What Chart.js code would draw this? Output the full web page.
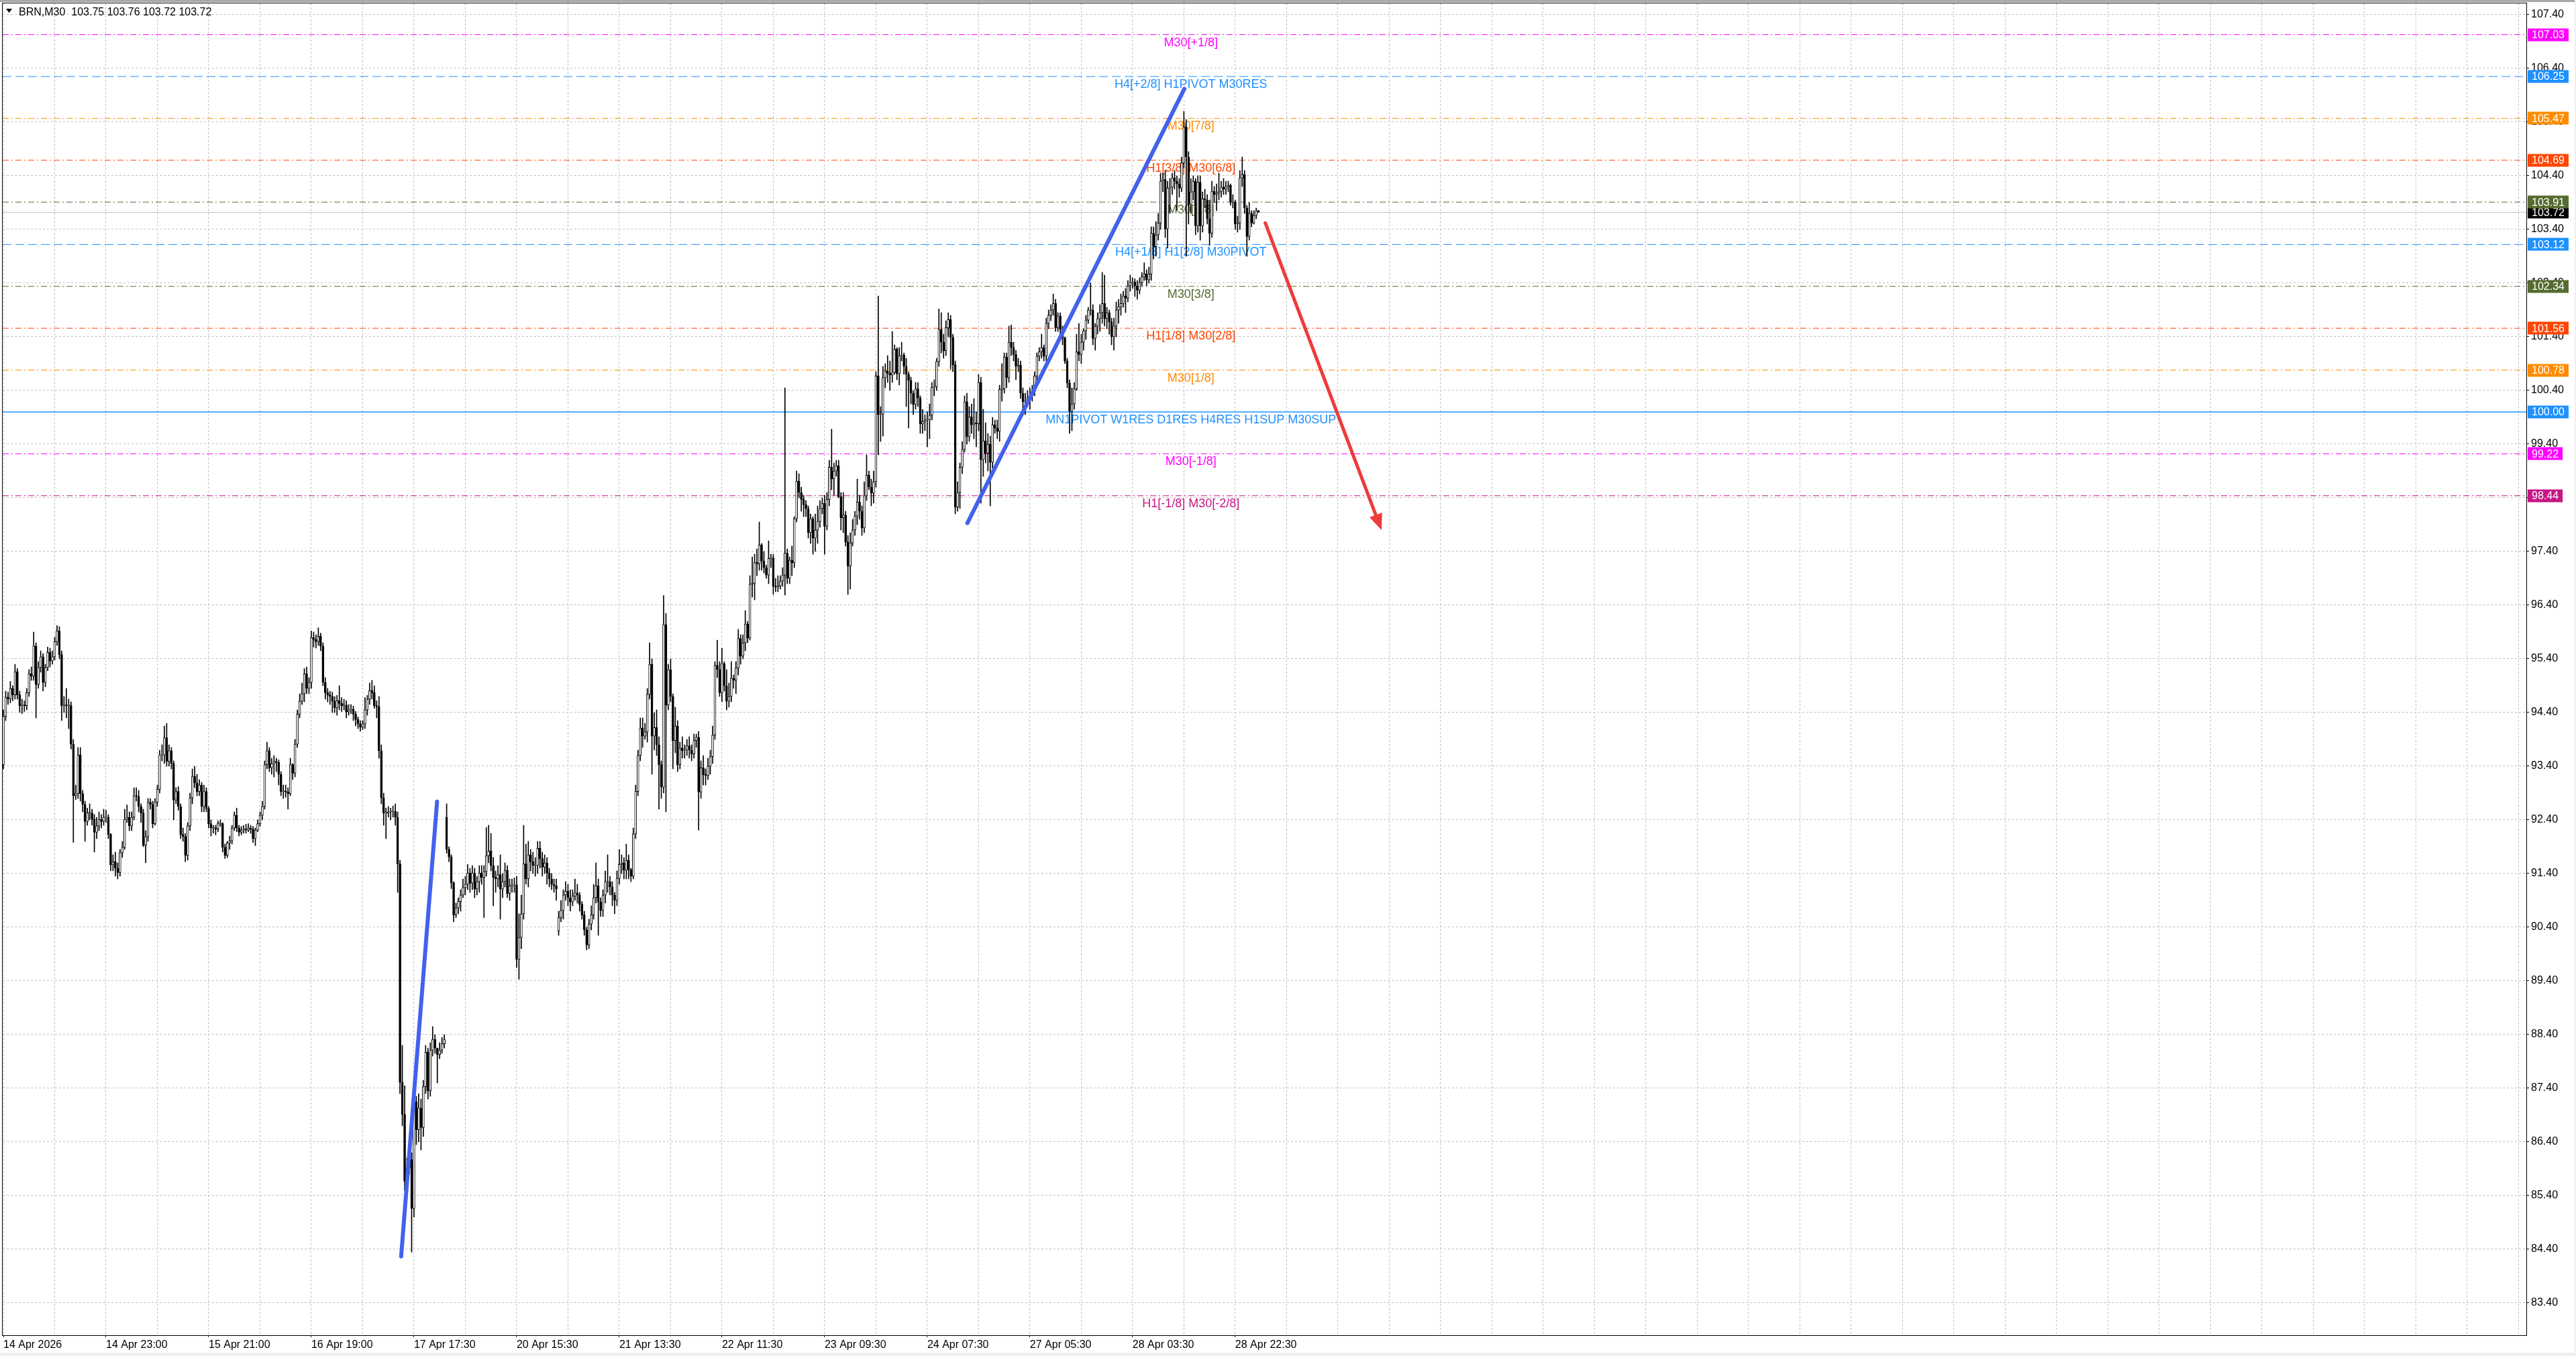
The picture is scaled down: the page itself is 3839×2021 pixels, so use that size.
<!DOCTYPE html>
<html>
<head>
<meta charset="utf-8">
<script src="https://cdn.jsdelivr.net/npm/chart.js@4.4.0/dist/chart.umd.min.js"></script>
<style>
  html, body { margin: 0; padding: 0; background: #fff; overflow: hidden; }
  canvas { display: block; }
</style>
</head>
<body>
<canvas id="brn" width="3839" height="2021"></canvas>
<script>
// BRN, M30 - closes, highs, lows per bar (open = previous close, except the gap bars below)
const closes = [
  94.33,94.69,94.65,94.85,94.73,95.16,94.73,94.53,94.54,94.53,
  94.77,95.12,95.08,95.64,94.92,95.24,95.44,94.96,95.24,95.52,
  95.36,95.44,95.72,95.92,95.48,94.53,94.54,94.53,94.53,93.81,
  92.85,92.89,93.61,92.89,92.69,92.37,92.53,92.53,92.41,92.17,
  92.29,92.41,92.37,92.45,92.45,92.13,91.56,91.62,91.50,91.42,
  91.79,91.89,92.41,92.45,92.29,92.45,92.85,92.84,92.65,92.53,
  91.93,92.09,92.73,92.69,92.33,92.73,92.97,93.61,93.61,93.93,
  93.49,93.69,93.45,92.77,92.93,92.65,92.13,92.09,91.74,92.29,
  92.81,93.21,93.09,92.93,93.05,92.65,92.93,92.61,92.33,92.25,
  92.25,92.23,92.33,92.33,91.89,91.74,91.97,92.01,92.25,92.49,
  92.25,92.17,92.21,92.23,92.21,92.25,92.23,92.05,92.21,92.33,
  92.49,92.65,93.43,93.69,93.37,93.45,93.49,93.47,93.25,92.93,
  92.93,92.92,92.89,93.43,93.27,93.81,94.37,94.61,94.75,95.12,
  94.85,94.96,95.80,95.76,95.72,95.82,95.64,94.96,94.77,94.73,
  94.70,94.61,94.49,94.62,94.57,94.53,94.54,94.41,94.45,94.46,
  94.37,94.27,94.19,94.13,94.19,94.45,94.65,94.81,94.77,94.53,
  94.51,93.69,92.81,92.53,92.53,92.55,92.55,92.56,92.45,91.58,
  87.51,86.91,85.67,85.91,86.07,85.16,87.15,86.63,87.03,86.67,
  87.43,88.07,87.35,88.11,88.31,88.15,88.03,88.11,88.23,88.31,
  91.85,91.71,91.23,90.63,90.76,90.88,91.00,91.14,91.20,91.41,
  91.22,91.41,91.11,91.25,91.41,91.33,91.44,91.73,91.82,91.55,
  91.33,91.30,91.38,91.11,91.25,91.46,91.03,91.17,91.19,91.19,
  89.80,90.21,90.65,91.58,91.30,91.75,91.62,91.55,91.55,91.87,
  91.68,91.52,91.60,91.41,91.30,91.20,91.17,91.11,90.58,90.71,
  91.00,91.07,90.95,90.87,90.98,91.04,91.00,90.83,90.63,90.35,
  90.07,90.46,90.63,90.95,91.17,90.87,90.71,91.00,91.25,91.25,
  91.15,91.00,90.90,91.31,91.57,91.60,91.46,91.65,91.47,91.35,
  92.14,92.93,93.60,94.11,93.96,94.04,94.74,95.30,93.96,94.12,
  93.80,93.43,93.01,96.04,94.54,95.20,94.70,93.88,94.15,93.43,
  93.74,93.69,93.70,93.78,93.70,93.63,93.88,93.94,92.92,93.37,
  93.24,93.23,93.40,93.58,93.98,95.28,95.20,94.77,95.31,94.90,
  94.61,94.70,95.04,95.00,95.23,95.78,95.45,95.70,96.05,95.79,
  96.79,96.81,97.20,97.17,97.52,97.22,97.10,96.96,97.27,97.28,
  96.75,96.74,96.76,96.85,96.96,97.37,96.90,97.24,97.19,98.01,
  98.71,98.50,98.37,98.27,98.20,97.75,98.01,97.65,97.80,97.96,
  98.20,98.30,97.87,98.37,98.97,98.75,98.90,99.00,98.42,98.03,
  98.08,97.58,97.13,97.56,97.80,98.06,98.32,98.15,97.84,98.44,
  98.82,98.60,98.49,98.70,100.67,99.95,99.96,100.64,100.76,100.72,
  100.69,100.74,101.17,100.71,101.05,101.06,100.85,100.70,100.59,100.35,
  100.14,100.43,100.26,99.78,99.82,99.85,99.85,99.94,100.46,100.47,
  100.94,101.54,101.30,101.14,101.57,101.72,101.39,100.88,98.23,98.50,
  98.97,99.30,100.19,99.54,99.91,99.76,99.80,99.78,100.55,99.11,
  99.46,99.23,99.40,99.06,99.76,99.70,99.64,100.42,100.43,101.02,
  100.64,101.30,101.20,101.07,100.85,100.87,100.35,100.19,100.20,100.26,
  100.30,100.38,100.67,101.04,101.12,101.20,101.04,101.65,101.80,101.90,
  102.02,101.57,101.79,101.54,101.38,100.95,100.54,100.01,100.15,100.43,
  101.12,101.07,101.30,101.51,101.71,101.90,101.90,101.37,101.60,101.74,
  101.85,102.02,101.74,101.85,101.68,101.40,101.60,101.90,101.96,102.02,
  102.16,102.12,102.35,102.41,102.42,102.35,102.27,102.41,102.52,102.57,
  102.46,102.57,103.33,103.08,103.30,103.52,104.30,104.33,103.41,104.17,
  104.19,104.36,104.30,104.25,104.17,104.64,105.31,104.75,103.86,104.10,
  104.30,103.47,104.28,103.47,103.97,103.95,103.60,103.33,104.11,104.05,
  104.08,104.11,104.19,104.15,104.20,104.22,103.91,103.91,103.50,103.52,
  104.36,104.42,103.80,103.27,103.70,103.52,103.66,103.75,103.72
]

const highs = [
  94.45,94.80,94.78,94.98,94.90,95.30,95.22,94.80,94.65,94.62,
  94.85,95.20,95.25,95.90,95.70,95.35,95.55,95.50,95.30,95.62,
  95.60,95.55,95.80,96.02,96.00,95.55,94.70,94.85,94.65,94.60,
  93.90,93.05,93.75,93.75,92.95,92.75,92.62,92.70,92.60,92.50,
  92.45,92.55,92.50,92.60,92.58,92.50,92.15,91.75,91.80,91.60,
  91.85,92.00,92.60,92.68,92.55,92.55,93.00,93.00,92.95,92.70,
  92.60,92.20,92.80,92.80,92.75,92.80,93.05,93.70,93.80,94.15,
  94.20,93.80,93.75,93.50,93.00,93.02,92.70,92.25,92.15,92.35,
  92.90,93.35,93.40,93.25,93.15,93.10,93.05,93.00,92.65,92.40,
  92.30,92.30,92.38,92.40,92.35,91.95,92.00,92.10,92.30,92.55,
  92.62,92.30,92.28,92.30,92.32,92.33,92.30,92.28,92.25,92.40,
  92.55,92.75,93.50,93.85,93.75,93.55,93.60,93.55,93.52,93.30,
  93.05,93.05,93.00,93.55,93.45,93.90,94.45,94.75,94.95,95.22,
  95.25,95.05,95.92,95.90,95.85,95.98,95.88,95.70,95.05,94.85,
  94.80,94.78,94.70,94.72,94.90,94.68,94.65,94.62,94.55,94.55,
  94.52,94.42,94.32,94.25,94.25,94.68,94.72,94.95,95.00,94.90,
  94.62,94.70,93.80,92.90,92.62,92.65,92.62,92.66,92.70,92.55,
  91.65,88.20,87.45,86.10,86.25,86.20,87.40,87.25,87.30,87.20,
  87.55,88.20,88.15,88.25,88.55,88.40,88.15,88.25,88.35,88.40,
  92.70,91.90,91.75,91.25,90.85,90.95,91.10,91.30,91.35,91.57,
  91.50,91.55,91.50,91.35,91.55,91.55,91.55,92.26,92.30,92.15,
  91.70,91.45,91.55,91.75,91.40,91.60,91.55,91.30,91.30,91.32,
  91.35,90.65,91.00,92.30,91.95,92.00,91.85,91.80,91.70,92.00,
  92.00,91.80,91.75,91.70,91.50,91.40,91.30,91.30,90.70,90.90,
  91.10,91.25,91.20,91.10,91.10,91.30,91.20,91.05,90.88,90.70,
  90.40,90.55,90.80,91.20,91.60,91.30,90.95,91.10,91.45,91.75,
  91.35,91.25,91.05,91.45,91.85,91.75,91.70,91.95,91.75,91.50,
  92.25,93.05,93.70,94.30,94.30,94.20,94.85,95.70,95.40,94.40,
  94.45,93.95,93.50,96.58,96.25,95.30,95.40,94.75,94.50,94.25,
  93.85,93.95,93.80,93.90,93.95,93.80,94.00,94.00,94.05,93.50,
  93.60,93.35,93.55,93.70,94.15,95.35,95.75,95.35,95.60,95.35,
  95.20,94.95,95.35,95.10,95.35,95.95,95.85,95.85,96.30,96.10,
  96.95,97.30,97.35,97.45,97.95,97.55,97.40,97.15,97.60,97.35,
  97.35,96.90,96.95,96.95,97.10,100.45,97.45,97.30,97.50,98.05,
  98.90,98.85,98.60,98.45,98.35,98.25,98.10,98.05,98.10,98.25,
  98.35,98.40,98.45,98.50,99.10,99.68,99.05,99.10,99.10,98.50,
  98.50,98.15,97.70,97.75,98.00,98.15,98.75,98.45,98.25,98.70,
  99.20,98.90,98.75,98.90,100.75,102.16,100.10,100.85,100.90,101.05,
  100.95,101.50,101.25,101.20,101.20,101.30,101.10,101.00,100.75,100.65,
  100.40,100.55,100.55,100.30,100.05,99.95,100.00,100.15,100.55,100.60,
  101.00,101.92,101.85,101.45,101.70,101.85,101.80,101.45,100.95,98.70,
  99.05,99.45,100.30,100.35,100.10,100.15,100.25,100.00,100.70,100.65,
  100.05,99.80,99.60,99.55,99.90,99.85,99.85,100.50,100.90,101.10,
  101.10,101.60,101.62,101.30,101.15,101.00,100.95,100.45,100.35,100.40,
  100.45,100.50,100.75,101.10,101.20,101.45,101.25,101.75,101.90,102.00,
  102.20,102.10,101.85,101.85,101.60,101.40,101.00,100.60,100.45,100.55,
  101.45,101.65,101.45,101.55,101.80,101.95,102.40,102.00,101.65,101.85,
  102.00,102.60,102.55,101.95,101.90,101.75,101.75,102.05,102.10,102.20,
  102.25,102.30,102.45,102.55,102.50,102.48,102.45,102.50,102.60,102.78,
  102.65,102.70,103.45,103.45,103.55,103.70,104.45,104.45,104.50,104.30,
  104.35,104.45,104.50,104.40,104.35,104.75,105.60,105.45,104.85,104.35,
  104.40,104.35,104.40,104.40,104.10,104.15,104.05,103.95,104.30,104.20,
  104.25,104.45,104.30,104.35,104.30,104.30,104.25,104.05,103.95,103.65,
  104.50,104.75,104.50,103.85,103.90,103.75,103.75,103.80,103.76
]

const lows = [
  93.35,94.25,94.55,94.58,94.62,94.65,94.65,94.40,94.38,94.42,
  94.45,94.70,95.00,95.00,94.30,94.85,95.15,94.80,94.88,95.18,
  95.25,95.30,95.38,95.65,95.40,94.25,94.40,94.30,94.10,93.72,
  91.98,92.78,92.80,92.75,92.55,92.00,92.30,92.40,92.30,91.80,
  92.05,92.20,92.25,92.30,92.35,92.05,91.45,91.45,91.35,91.30,
  91.35,91.70,91.85,92.35,92.20,92.20,92.40,92.75,92.55,92.35,
  91.90,91.60,92.00,92.60,92.25,92.30,92.65,92.90,93.50,93.45,
  93.40,93.40,93.35,92.40,92.70,92.58,92.05,92.00,91.62,91.65,
  92.20,92.70,93.00,92.85,92.85,92.55,92.55,92.55,92.25,92.10,
  92.15,92.12,92.18,92.28,91.80,91.68,91.70,91.85,91.95,92.20,
  92.18,92.10,92.12,92.15,92.15,92.18,92.15,91.98,91.92,92.18,
  92.28,92.40,92.60,93.35,93.30,93.25,93.20,93.30,93.05,92.85,
  92.80,92.82,92.60,92.85,93.15,93.20,93.75,94.30,94.55,94.60,
  94.75,94.75,94.85,95.62,95.60,95.65,95.55,94.90,94.65,94.60,
  94.55,94.40,94.40,94.35,94.45,94.42,94.45,94.30,94.35,94.38,
  94.25,94.15,94.10,94.05,94.08,94.10,94.35,94.55,94.65,94.48,
  94.30,93.55,92.70,92.30,92.05,92.45,92.40,92.45,92.30,91.05,
  87.30,86.70,85.50,85.40,85.80,84.35,85.00,86.35,86.40,86.25,
  86.50,87.30,87.20,87.25,88.00,88.05,87.50,87.95,88.05,88.15,
  91.78,91.62,91.12,90.50,90.58,90.65,90.70,90.95,91.00,91.10,
  91.05,91.10,90.95,91.00,91.05,91.20,90.58,91.35,91.60,91.45,
  90.80,91.05,91.15,90.55,90.95,91.15,90.95,90.90,91.05,91.05,
  89.65,89.43,90.00,90.55,91.20,91.15,91.45,91.40,91.35,91.40,
  91.50,91.35,91.40,91.20,91.15,91.10,91.05,90.90,90.25,90.50,
  90.55,90.90,90.80,90.70,90.80,90.90,90.85,90.70,90.55,90.25,
  89.98,90.00,90.35,90.55,90.85,90.25,90.60,90.60,90.85,91.05,
  91.00,90.80,90.65,90.80,91.20,91.40,91.30,91.30,91.30,91.25,
  91.30,92.05,92.85,93.50,93.75,93.90,93.85,94.65,93.25,93.70,
  93.60,92.60,92.80,92.90,92.55,94.45,94.60,93.35,93.65,93.30,
  93.35,93.55,93.55,93.60,93.55,93.50,93.55,93.75,92.21,92.80,
  93.05,93.05,93.15,93.25,93.45,93.90,95.05,94.70,94.60,94.80,
  94.45,94.50,94.60,94.85,94.75,95.10,95.30,95.40,95.55,95.70,
  95.75,96.55,96.50,96.95,97.05,97.05,97.00,96.90,96.80,97.10,
  96.60,96.65,96.65,96.70,96.75,96.59,96.80,96.80,96.95,97.10,
  97.95,98.40,98.15,98.05,98.05,97.65,97.55,97.35,97.40,97.55,
  97.85,98.10,97.35,97.80,98.25,98.55,98.45,98.80,98.40,97.80,
  97.75,97.50,96.60,96.70,97.50,97.70,97.90,98.00,97.70,97.75,
  98.35,98.55,98.25,98.30,98.60,99.20,99.45,99.55,100.45,100.55,
  100.40,100.55,100.70,100.60,100.50,100.95,100.70,100.10,99.70,100.15,
  99.95,100.05,100.10,99.60,99.60,99.65,99.35,99.50,99.85,100.30,
  100.40,100.85,101.10,101.00,101.05,101.40,100.80,100.75,98.10,98.15,
  98.20,98.85,99.25,99.40,99.45,99.60,99.50,99.35,99.65,98.30,
  98.80,99.05,98.90,98.25,98.95,99.60,99.50,99.45,100.20,100.35,
  100.45,100.55,101.05,100.95,100.60,100.75,100.25,99.95,99.95,100.10,
  100.05,100.20,100.30,100.55,100.95,101.00,100.95,100.95,101.55,101.70,
  101.80,101.50,101.50,101.45,101.25,100.90,100.45,99.60,99.65,100.05,
  100.40,100.95,100.90,101.15,101.35,101.65,101.80,101.25,101.15,101.45,
  101.50,101.65,101.60,101.55,101.45,101.25,101.15,101.40,101.65,101.80,
  101.95,101.85,102.05,102.25,102.30,102.15,102.10,102.20,102.35,102.45,
  102.35,102.40,102.45,102.85,102.90,103.20,103.40,104.10,103.25,103.05,
  103.70,104.05,104.15,103.75,104.00,104.10,104.55,102.90,103.50,103.70,
  103.95,103.30,103.35,103.20,103.35,103.80,103.50,103.10,103.25,103.90,
  103.75,103.95,104.00,104.05,104.05,104.10,103.85,103.80,103.40,103.35,
  103.40,104.20,103.70,102.90,103.20,103.45,103.50,103.60,103.72
]

// bars that open away from the previous close (first bar, weekend, daily gap)
const gapBars = [0, 190, 238]
const gapOpens = [93.43, 92.45, 90.33]

const xLabels = ['14 Apr 2026', '14 Apr 23:00', '15 Apr 21:00', '16 Apr 19:00', '17 Apr 17:30',
  '20 Apr 15:30', '21 Apr 13:30', '22 Apr 11:30', '23 Apr 09:30', '24 Apr 07:30',
  '27 Apr 05:30', '28 Apr 03:30', '28 Apr 22:30']
const priceTicks = [83.4, 84.4, 85.4, 86.4, 87.4, 88.4, 89.4, 90.4, 91.4, 92.4, 93.4, 94.4, 95.4,
  96.4, 97.4, 98.4, 99.4, 100.4, 101.4, 102.4, 103.4, 104.4, 105.4, 106.4, 107.4]

// murrey / pivot levels
const levelValues = [107.03, 106.25, 105.47, 104.69, 103.91, 103.12, 102.34, 101.56, 100.78, 100.00, 99.22, 98.44]
const levelNames = ['M30[+1/8]', 'H4[+2/8] H1PIVOT M30RES', 'M30[7/8]', 'H1[3/8] M30[6/8]', 'M30[5/8]',
  'H4[+1/8] H1[2/8] M30PIVOT', 'M30[3/8]', 'H1[1/8] M30[2/8]', 'M30[1/8]',
  'MN1PIVOT W1RES D1RES H4RES H1SUP M30SUP', 'M30[-1/8]', 'H1[-1/8] M30[-2/8]']
const levelColors = ['#ff00ff', '#1e90ff', '#ff8c00', '#ff4500', '#556b2f', '#1e90ff',
  '#556b2f', '#ff4500', '#ff8c00', '#1e90ff', '#ff00ff', '#c71585']
const levelStyles = ['dashdot', 'dash', 'dashdot', 'dashdot', 'dashdot', 'dash',
  'dashdot', 'dashdot', 'dashdot', 'solid', 'dashdot', 'dashdot']
const lastPrice = 103.72

// hand drawn objects: [bar, price]
const trendUp1 = [[170.5, 84.27], [185.9, 92.74]]
const trendUp2 = [[413.2, 97.93], [506.2, 106.02]]
const arrowDown = [[540.9, 103.52], [590.7, 97.80]]

const W = 3839
const xMin = -0.29
const xMax = 1081.4
const yMin = 82.80
const yMax = 107.6125
const labelBar = 509
const FONT = '"Liberation Sans", Arial, sans-serif'

const dashes = { dashdot: [9, 4, 2, 4], dash: [13, 6], solid: [] }

const opens = closes.map((c, i) => {
  const g = gapBars.indexOf(i)
  return g >= 0 ? gapOpens[g] : closes[i - 1]
})

const isLabelTick = v => v % 44 === 0 && v / 44 < xLabels.length

const gridBars = []
for (let b = 0; b <= xMax; b += 22) gridBars.push(b)

const bodyData = closes.map((c, i) => ({ x: i, y: [opens[i], c] }))
const wickData = closes.map((c, i) => ({
  x: i,
  y: [Math.min(lows[i], opens[i], c), Math.max(highs[i], opens[i], c)]
}))

const levelSets = levelValues.map((v, i) => ({
  type: 'line',
  data: [{ x: xMin, y: v }, { x: xMax, y: v }],
  borderColor: levelColors[i],
  borderWidth: levelStyles[i] === 'solid' ? 1.5 : 1,
  borderDash: dashes[levelStyles[i]],
  pointRadius: 0,
  order: 10
}))

const trendSet = pts => ({
  type: 'line',
  data: pts.map(p => ({ x: p[0], y: p[1] })),
  borderColor: '#4361ee',
  borderWidth: 6,
  borderCapStyle: 'round',
  pointRadius: 0,
  order: 0
})

const overlay = {
  id: 'overlay',
  beforeDatasetsDraw(chart) {
    const { ctx, scales: { x, y } } = chart
    ctx.save()
    ctx.font = '18px ' + FONT
    ctx.textAlign = 'center'
    ctx.textBaseline = 'alphabetic'
    levelValues.forEach((v, i) => {
      ctx.fillStyle = levelColors[i]
      ctx.fillText(levelNames[i], x.getPixelForValue(labelBar), y.getPixelForValue(v) + 17)
    })
    ctx.restore()
  },
  afterDatasetsDraw(chart) {
    const { ctx, scales: { x, y } } = chart
    const x0 = x.getPixelForValue(arrowDown[0][0]), y0 = y.getPixelForValue(arrowDown[0][1])
    const x1 = x.getPixelForValue(arrowDown[1][0]), y1 = y.getPixelForValue(arrowDown[1][1])
    const a = Math.atan2(y1 - y0, x1 - x0)
    const head = 24, half = 10
    const bx = x1 - head * Math.cos(a), by = y1 - head * Math.sin(a)
    ctx.save()
    ctx.strokeStyle = '#ee3b3b'
    ctx.fillStyle = '#ee3b3b'
    ctx.lineWidth = 5
    ctx.lineCap = 'round'
    ctx.beginPath()
    ctx.moveTo(x0, y0)
    ctx.lineTo(bx, by)
    ctx.stroke()
    ctx.beginPath()
    ctx.moveTo(x1, y1)
    ctx.lineTo(bx + half * Math.sin(a), by - half * Math.cos(a))
    ctx.lineTo(bx - half * Math.sin(a), by + half * Math.cos(a))
    ctx.closePath()
    ctx.fill()
    ctx.restore()
  },
  afterDraw(chart) {
    const { ctx, chartArea: ca, scales: { y } } = chart
    ctx.save()
    // window edges
    ctx.fillStyle = '#a8a8a8'
    ctx.fillRect(0, 0, W, 3)
    ctx.fillStyle = '#f0f0f0'
    ctx.fillRect(0, 2016, W, 5)
    ctx.fillRect(W - 2, 0, 2, 2021)
    // frame
    ctx.strokeStyle = '#000'
    ctx.lineWidth = 1
    ctx.strokeRect(Math.round(ca.left) - 0.5, Math.round(ca.top) - 0.5,
      Math.round(ca.right - ca.left) + 1, Math.round(ca.bottom - ca.top) + 1)
    // header
    ctx.fillStyle = '#000'
    ctx.beginPath()
    ctx.moveTo(9, 13)
    ctx.lineTo(18, 13)
    ctx.lineTo(13.5, 19)
    ctx.closePath()
    ctx.fill()
    ctx.font = '16px ' + FONT
    ctx.textAlign = 'left'
    ctx.textBaseline = 'alphabetic'
    ctx.fillText('BRN,M30  103.75 103.76 103.72 103.72', 28, 23)
    // price boxes on the axis
    ctx.textBaseline = 'middle'
    const box = (v, color) => {
      const py = y.getPixelForValue(v)
      const t = v.toFixed(2)
      const w = ctx.measureText(t).width + 12
      ctx.fillStyle = color
      ctx.fillRect(ca.right + 2, Math.round(py) - 9.5, w, 19)
      ctx.fillStyle = '#fff'
      ctx.fillText(t, ca.right + 8, py + 1)
    }
    box(lastPrice, '#000')
    levelValues.forEach((v, i) => box(v, levelColors[i]))
    ctx.restore()
  }
}

new Chart(document.getElementById('brn'), {
  type: 'bar',
  data: {
    datasets: [
      ...levelSets,
      {
        type: 'line',
        data: [{ x: xMin, y: lastPrice }, { x: xMax, y: lastPrice }],
        borderColor: '#c0c0c0',
        borderWidth: 1,
        pointRadius: 0,
        order: 11
      },
      {
        label: 'wicks',
        data: wickData,
        backgroundColor: '#000',
        barThickness: 1,
        grouped: false,
        order: 3
      },
      {
        label: 'BRN',
        data: bodyData,
        backgroundColor: bodyData.map(d => d.y[1] >= d.y[0] ? '#ffffff' : '#000000'),
        borderColor: '#000',
        borderWidth: 1,
        borderSkipped: false,
        barThickness: 3,
        minBarLength: 1,
        grouped: false,
        order: 2
      },
      trendSet(trendUp1),
      trendSet(trendUp2)
    ]
  },
  options: {
    responsive: false,
    devicePixelRatio: 1,
    animation: false,
    events: [],
    layout: { padding: { top: 5, left: 4, right: 0, bottom: 0 } },
    plugins: {
      legend: { display: false },
      tooltip: { enabled: false }
    },
    scales: {
      x: {
        type: 'linear',
        min: xMin,
        max: xMax,
        offset: false,
        afterBuildTicks: s => { s.ticks = gridBars.map(v => ({ value: v })) },
        afterFit: s => { s.height = 31; s.paddingLeft = 0; s.paddingRight = 0 },
        grid: {
          offset: false,
          color: '#c0c0c0',
          lineWidth: 1,
          tickLength: 3,
          tickBorderDash: [],
          tickColor: c => isLabelTick(c.tick.value) ? '#000' : 'rgba(0,0,0,0)'
        },
        border: { display: false, dash: [3, 3] },
        ticks: {
          autoSkip: false,
          maxRotation: 0,
          minRotation: 0,
          align: 'start',
          padding: 2,
          color: '#000',
          font: { family: FONT, size: 16 },
          callback: v => isLabelTick(v) ? xLabels[v / 44] : ''
        }
      },
      y: {
        position: 'right',
        min: yMin,
        max: yMax,
        afterBuildTicks: s => { s.ticks = priceTicks.map(v => ({ value: v })) },
        afterFit: s => { s.width = 74; s.paddingTop = 0; s.paddingBottom = 0 },
        grid: {
          color: '#c0c0c0',
          lineWidth: 1,
          tickLength: 4,
          tickBorderDash: [],
          tickColor: '#000'
        },
        border: { display: false, dash: [3, 3] },
        ticks: {
          padding: 3,
          color: '#000',
          font: { family: FONT, size: 16 },
          callback: v => v.toFixed(2)
        }
      }
    }
  },
  plugins: [overlay]
})
</script>
</body>
</html>
